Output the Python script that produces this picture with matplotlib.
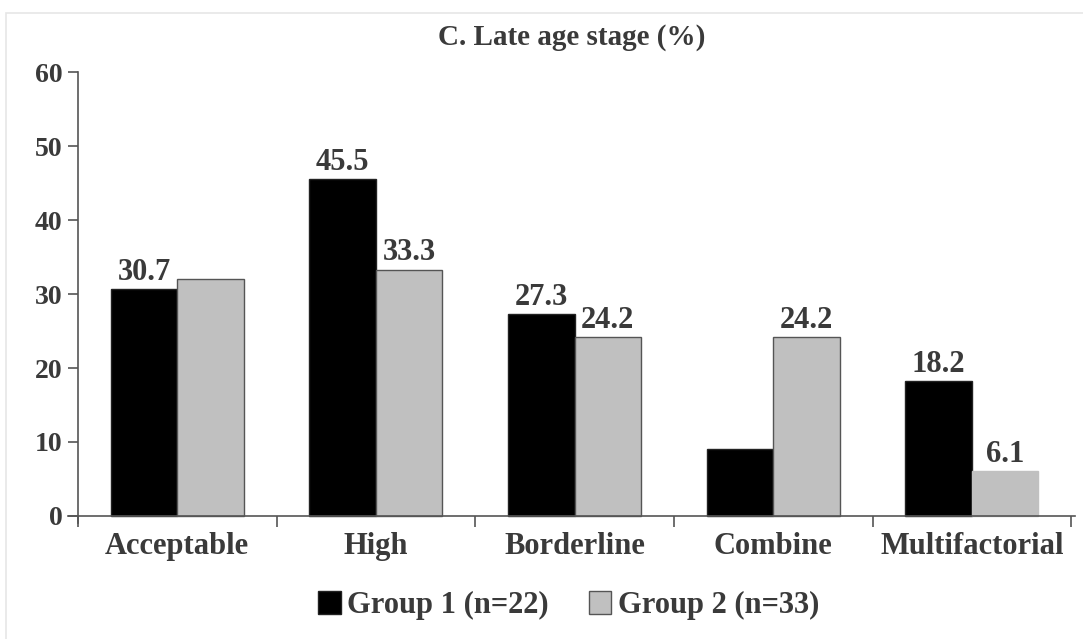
import matplotlib.pyplot as plt
from matplotlib.patches import Rectangle
import numpy as np

# Data
categories = ["Acceptable", "High", "Borderline", "Combine", "Multifactorial"]
group1 = [30.7, 45.5, 27.3, 9.1, 18.2]
group2 = [32.1, 33.3, 24.2, 24.2, 6.1]
label1 = ["30.7", "45.5", "27.3", None, "18.2"]
label2 = [None, "33.3", "24.2", "24.2", "6.1"]
series_names = ["Group 1 (n=22)", "Group 2 (n=33)"]

plt.rcParams['font.family'] = ['Liberation Serif', 'DejaVu Serif']
plt.rcParams['font.weight'] = 'bold'
txt_color = '#3a3a3a'

fig = plt.figure(figsize=(10.83, 6.39), dpi=100)
ax = fig.add_axes([0.0628, 0.181, 0.930, 0.706])

# light frame around figure
fig.patches.append(Rectangle((0.006, -0.01), 1.0, 0.99, transform=fig.transFigure,
                             fill=False, edgecolor='#e6e6e6', linewidth=1.2))

x = np.arange(len(categories))
w = 0.335
b1 = ax.bar(x - w / 2, group1, w, color='black', edgecolor='#222222', linewidth=1, label=series_names[0])
b2 = ax.bar(x + w / 2, group2, w, color='#c0c0c0', edgecolor='#555555', linewidth=1, label=series_names[1])
b2[-1].set_edgecolor('#c0c0c0')

for bars, labs in ((b1, label1), (b2, label2)):
    for rect, lab in zip(bars, labs):
        if lab is None:
            continue
        ax.text(rect.get_x() + rect.get_width() / 2, rect.get_height() + 0.3, lab,
                ha='center', va='bottom', fontsize=22, color=txt_color, fontweight='bold')

ax.set_xlim(-0.55, 4.52)
ax.set_ylim(-1, 60)
ax.spines['top'].set_visible(False)
ax.spines['right'].set_visible(False)
ax.spines['left'].set_position(('data', -0.5))
ax.spines['bottom'].set_position(('data', 0))
for s in ('left', 'bottom'):
    ax.spines[s].set_color('#555555')
    ax.spines[s].set_linewidth(1.2)

ax.set_yticks(range(0, 61, 10))
ax.tick_params(axis='y', direction='out', length=7, width=1.2, color='#555555',
               labelsize=20, labelcolor=txt_color, pad=4)

# category labels between boundary ticks
ax.set_xticks(np.arange(-0.5, 4.6, 1.0))
ax.set_xticklabels([])
ax.tick_params(axis='x', direction='out', length=8, width=1.2, color='#555555')
for xi, cat in zip(x, categories):
    ax.text(xi, -2.2, cat, ha='center', va='top', fontsize=22, color=txt_color, fontweight='bold')

ax.set_title("C. Late age stage (%)", fontsize=21, color=txt_color, fontweight='bold', pad=20)

leg = fig.legend(handles=[b1, b2], labels=series_names, loc='center', bbox_to_anchor=(0.525, 0.052),
                 ncol=2, frameon=False, fontsize=22, handlelength=0.75, handleheight=0.75,
                 handletextpad=0.2, columnspacing=1.3)
for t in leg.get_texts():
    t.set_color(txt_color)

fig.savefig('out.png', dpi=100)
